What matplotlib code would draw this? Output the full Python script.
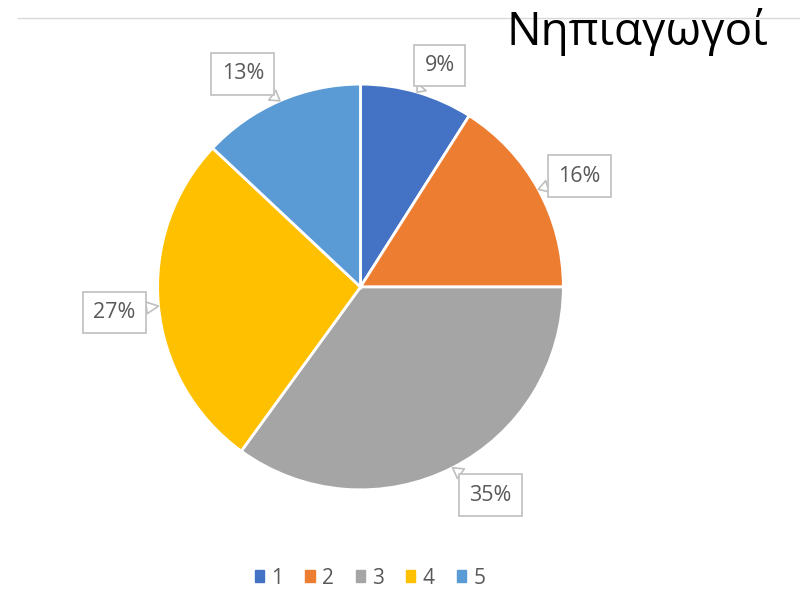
import numpy as np
import matplotlib.pyplot as plt
from matplotlib.lines import Line2D
from matplotlib.patches import Patch

plt.rcParams['font.family'] = ['Open Sans', 'DejaVu Sans']

categories = ["1", "2", "3", "4", "5"]
shares = [9, 16, 35, 27, 13]
colors = ["#4472C4", "#ED7D31", "#A5A5A5", "#FFC000", "#5B9BD5"]
title = "Νηπιαγωγοί"

# callout placement: distance from centre and angle nudge (degrees)
label_r = [1.16, 1.21, 1.21, 1.22, 1.20]
label_shift = [3.5, 2.0, -5.0, -0.5, -5.5]

text_gray = "#595959"
box_gray = "#BFBFBF"

fig = plt.figure(figsize=(8, 5.92), dpi=100)
ax = fig.add_axes([0.0956, 0.0355, 0.71, 0.9595])

wedges, _ = ax.pie(shares, colors=colors, startangle=90, counterclock=False,
                   radius=1.0,
                   wedgeprops=dict(edgecolor="white", linewidth=2))
ax.set_xlim(-1.4, 1.4)
ax.set_ylim(-1.4, 1.4)
ax.set_aspect("equal")
ax.axis("off")

# callout labels
cum = np.cumsum([0] + shares[:-1])
for v, c0, r, sh in zip(shares, cum, label_r, label_shift):
    mid = np.deg2rad((c0 + v / 2) / sum(shares) * 360)
    lab = mid + np.deg2rad(sh)
    ax.annotate(f"{v}%",
                xy=(np.sin(mid) * 1.0, np.cos(mid) * 1.0),
                xytext=(r * np.sin(lab), r * np.cos(lab)),
                ha="center", va="center", fontsize=15.5, color=text_gray,
                bbox=dict(boxstyle="square,pad=0.48", fc="white", ec=box_gray, lw=1.2),
                arrowprops=dict(arrowstyle="wedge,tail_width=0.55", fc="white",
                                ec=box_gray, lw=1.2, shrinkA=0, shrinkB=0))

# thin rule at the top and title
fig.add_artist(Line2D([18 / 800, 1.0], [1 - 18 / 592, 1 - 18 / 592],
                      color="#D9D9D9", lw=1))
fig.text(0.96, 1 - 45 / 592, title, ha="right", va="baseline", fontsize=33,
         color="black")

handles = [Patch(facecolor=c, edgecolor=c) for c in colors]
fig.legend(handles, categories, loc="center", bbox_to_anchor=(0.4625, 1 - 578 / 592),
           ncol=5, frameon=False, fontsize=15, labelcolor=text_gray,
           handlelength=0.45, handleheight=0.45, handletextpad=0.35,
           columnspacing=1.05)

fig.savefig("out.png", dpi=100)
